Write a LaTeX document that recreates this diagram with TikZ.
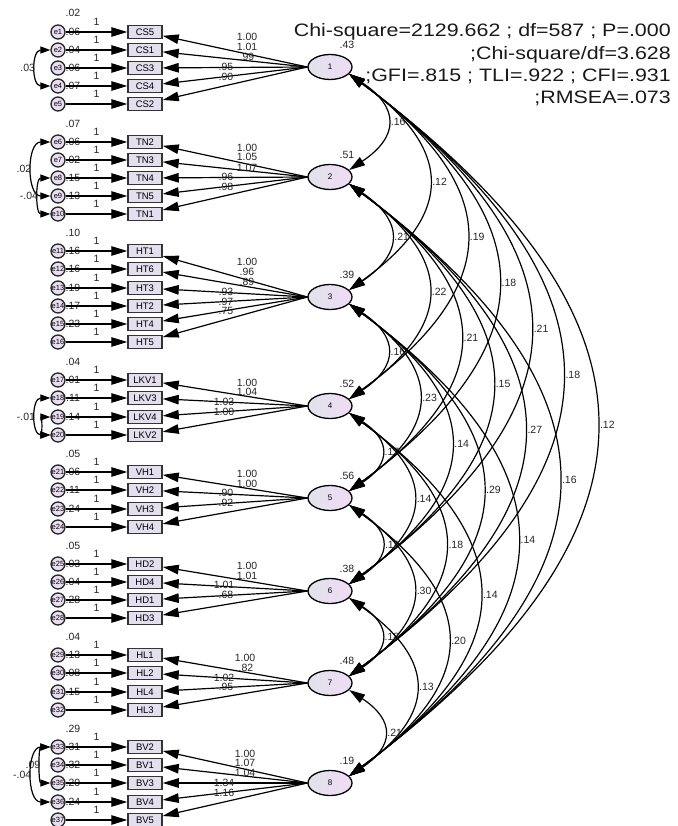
\documentclass[tikz,border=0pt]{standalone}
\usepackage{fontspec}
\setmainfont{Liberation Sans}
\usetikzlibrary{arrows.meta,shapes.geometric,calc,positioning}

\definecolor{obsfill}{HTML}{E3DFEF}
\definecolor{errfill}{HTML}{E8DEF1}
\definecolor{latleft}{HTML}{E2E2EC}
\definecolor{latright}{HTML}{EEDCF4}

\tikzset{
  obs/.style={draw=black!80, line width=1.5pt, fill=obsfill, minimum width=34pt, minimum height=13pt, inner sep=0pt, font=\fontsize{9.5}{10}\selectfont},
  err/.style={circle, draw=black!85, line width=1.3pt, fill=errfill, minimum size=14pt, inner sep=0pt, font=\fontsize{7.5}{8}\selectfont},
  lat/.style={ellipse, draw=black, line width=1.3pt, left color=latleft, right color=latright, minimum width=44pt, minimum height=25pt, inner sep=0pt, font=\fontsize{8}{9}\selectfont},
  est/.style={font=\fontsize{10.5}{11}\selectfont, inner sep=0.5pt, text=black!85},
  regr/.style={->, line width=1.2pt},
  cov/.style={<->, line width=1.2pt},
  ecov/.style={{Triangle[length=10pt,width=7pt]}-{Triangle[length=10pt,width=7pt]}, line width=1.2pt},
  fitline/.style={anchor=base east, font=\fontsize{18}{20}\selectfont, xscale=1.19, inner sep=0pt, text=black!90}
}

\begin{document}
\begin{tikzpicture}[x=1pt, y=-1pt, >={Triangle[length=16pt,width=9.5pt]}]
\useasboundingbox (0,0) rectangle (677,826);

% fit indices
\foreach \y/\t [count=\k] in {37/{Chi-square=2129.662 ; df=587 ; P=.000}, 59.5/{;Chi-square/df=3.628}, 82/{;GFI=.815 ; TLI=.922 ; CFI=.931}, 104/{;RMSEA=.073}}
  \node[fitline] (fit\k) at (671,\y) {\t};

% latent factors
\foreach \f/\y/\v in {1/67/.43, 2/177/.51, 3/297/.39, 4/406/.52, 5/498/.56, 6/591/.38, 7/683/.48, 8/783/.19} {
  \node[lat] (F\f) at (330,\y) {\f};
  \node[est] (var\f) at (347,\y-22) {\v};
}

% error variances
\foreach \y/\v [count=\k] in {13/.02, 32/.06, 50/.04, 68/.06, 86/.07,
    124/.07, 142/.06, 160/.02, 178/.15, 196/.13,
    233/.10, 251/.16, 269/.16, 288/.19, 306/.17, 324/.23,
    362/.04, 380/.01, 398/.11, 417/.14,
    454/.05, 472/.06, 490/.11, 509/.24,
    546/.05, 564/.03, 582/.04, 600/.28,
    637/.04, 655/.13, 673/.08, 692/.15,
    729/.29, 747/.31, 765/.32, 783/.20, 802/.24}
  \node[est] (ev\k) at (73,\y) {\v};

% indicators
\foreach \f/\ind/\y/\e in {1/CS5/32/1, 1/CS1/50/2, 1/CS3/68/3, 1/CS4/86/4, 1/CS2/104/5,
    2/TN2/142/6, 2/TN3/160/7, 2/TN4/178/8, 2/TN5/196/9, 2/TN1/214/10,
    3/HT1/251/11, 3/HT6/269/12, 3/HT3/288/13, 3/HT2/306/14, 3/HT4/324/15, 3/HT5/342/16,
    4/LKV1/380/17, 4/LKV3/398/18, 4/LKV4/417/19, 4/LKV2/435/20,
    5/VH1/472/21, 5/VH2/490/22, 5/VH3/509/23, 5/VH4/527/24,
    6/HD2/564/25, 6/HD4/582/26, 6/HD1/600/27, 6/HD3/618/28,
    7/HL1/655/29, 7/HL2/673/30, 7/HL4/692/31, 7/HL3/710/32,
    8/BV2/747/33, 8/BV1/765/34, 8/BV3/783/35, 8/BV4/802/36, 8/BV5/820/37} {
  \node[obs] (\ind) at (145,\y) {\ind};
  \node[err] (e\e) at (58,\y) {e\e};
  \draw[regr] (e\e) -- node[est, above=5pt] {1} (\ind);
  \draw[regr] (F\f.west) -- (\ind);
}

% loadings
\foreach \x/\y/\v [count=\k] in {247/37/1.00, 247/47/1.01, 247/57/.99, 226/67/.95, 226/77/.90,
    247/148/1.00, 247/157/1.05, 247/168/1.07, 226/177/.96, 226/187/.98,
    247/262/1.00, 247/272/.96, 247/282/.89, 226/292/.93, 226/302/.97, 226/311/.75,
    247/383/1.00, 247/392/1.04, 224/402/1.03, 224/412/1.00,
    247/474/1.00, 247/484/1.00, 226/493/.90, 226/503/.92,
    247/566/1.00, 247/576/1.01, 224/585/1.01, 226/595/.68,
    245/658/1.00, 246/668/.82, 224/678/1.02, 226/687/.95,
    245/754/1.00, 245/763/1.07, 245/773/1.04, 224/783/1.34, 224/793/1.16}
  \node[est] (ld\k) at (\x,\y) {\v};

% error covariances
\draw[ecov] (e2) to[out=180,in=180,distance=19pt] node[est,left] (c1) {.03} (e4);
\draw[ecov] (e6) to[out=180,in=180,distance=24pt] node[est,left] (c2) {.02} (e9);
\draw[ecov] (e8) to[out=180,in=180,distance=15pt] node[est,left] (c3) {-.04} (e10);
\draw[ecov] (e18) to[out=180,in=180,distance=19pt] node[est,left] (c4) {-.01} (e20);
\draw[ecov] (e19) to[out=180,in=180,distance=8pt] (e20);
\draw[ecov] (e33) to[out=180,in=180,distance=12pt] node[est,left] (c5) {.09} (e35);
\draw[ecov] (e33) to[out=180,in=180,distance=24pt] node[est,left] (c6) {-.04} (e36);

% factor covariances
\foreach \i/\j/\r in {1/2/.16, 1/3/.12, 1/4/.19, 1/5/.18, 1/6/.21, 1/7/.18, 1/8/.12,
    2/3/.21, 2/4/.22, 2/5/.21, 2/6/.15, 2/7/.27, 2/8/.16,
    3/4/.16, 3/5/.23, 3/6/.14, 3/7/.29, 3/8/.14,
    4/5/.17, 4/6/.14, 4/7/.18, 4/8/.14,
    5/6/.18, 5/7/.30, 5/8/.20,
    6/7/.18, 6/8/.13,
    7/8/.21}
  \draw[cov] let \p1=(F\i.-20), \p2=(F\j.20), \n1={0.46*(\y1-\y2)+6pt}, \n2={0.35*(\y1-\y2)} in
    (\p1) .. controls (\x1+\n1,\y1-\n2) and (\x2+\n1,\y2+\n2) .. node[est,right=3pt] (r\i\j) {\r} (\p2);
\end{tikzpicture}
\end{document}
